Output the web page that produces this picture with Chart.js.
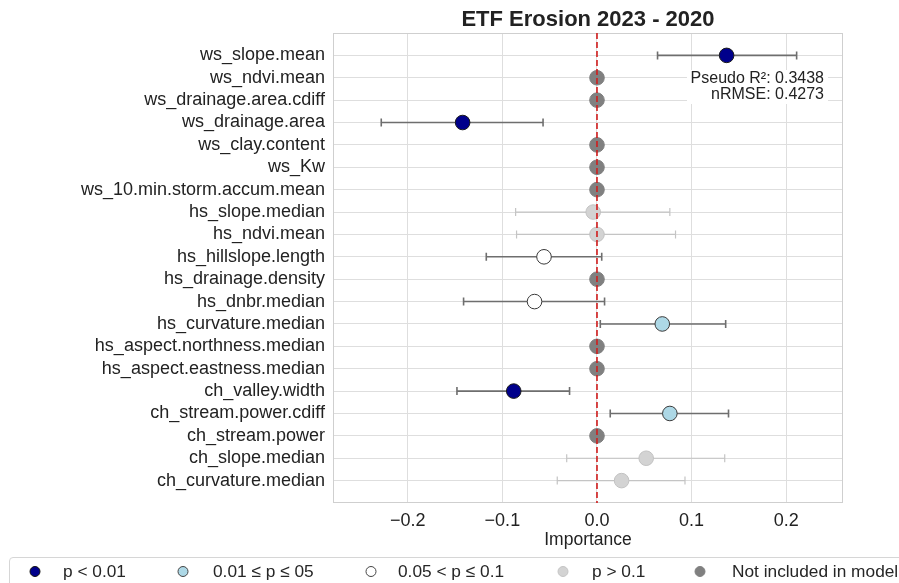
<!DOCTYPE html>
<html lang="en">
<head>
  <meta charset="UTF-8">
  <title>ETF Erosion 2023 - 2020</title>
  <script src="https://cdn.jsdelivr.net/npm/chart.js"></script>
  <style>
    html, body {
      margin: 0;
      padding: 0;
      background: #ffffff;
      font-family: 'Liberation Sans', Arial, sans-serif;
      color: #262626;
      overflow: hidden;
    }

    .wrap {
      position: relative;
      width: 899px;
      height: 583px;
    }

    canvas {
      display: block;
    }

    .legend {
      position: absolute;
      left: 9px;
      top: 557px;
      width: 940px;
      height: 44px;
      border: 1px solid #d6d6d6;
      border-radius: 4px;
      box-sizing: border-box;
    }

    .legend .dot {
      position: absolute;
      top: 8px;
      width: 11px;
      height: 11px;
      border-radius: 50%;
      box-sizing: border-box;
      transform: translateX(-50%);
    }

    .legend .txt {
      position: absolute;
      top: 3px;
      font-size: 17.3px;
      line-height: 20px;
      white-space: nowrap;
      color: #262626;
    }
  </style>
</head>
<body>
  <div class="wrap">
    <canvas id="chart" width="899" height="583"></canvas>
    <div class="legend">
      <span class="dot" style="left:25px;background:#00008b;border:1px solid #111;"></span>
      <span class="txt" style="left:53px;">p &lt; 0.01</span>
      <span class="dot" style="left:173px;background:#add8e6;border:1px solid #444;"></span>
      <span class="txt" style="left:203px;">0.01 ≤ p ≤ 05</span>
      <span class="dot" style="left:361px;background:#ffffff;border:1px solid #444;"></span>
      <span class="txt" style="left:388px;">0.05 &lt; p ≤ 0.1</span>
      <span class="dot" style="left:553px;background:#d3d3d3;border:1px solid #c4c4c4;"></span>
      <span class="txt" style="left:582px;">p &gt; 0.1</span>
      <span class="dot" style="left:690px;background:#808080;border:1px solid #808080;"></span>
      <span class="txt" style="left:722px;">Not included in model</span>
    </div>
  </div>

  <script>
    // feature names, top to bottom
    const features = [
      'ws_slope.mean', 'ws_ndvi.mean', 'ws_drainage.area.cdiff', 'ws_drainage.area',
      'ws_clay.content', 'ws_Kw', 'ws_10.min.storm.accum.mean', 'hs_slope.median',
      'hs_ndvi.mean', 'hs_hillslope.length', 'hs_drainage.density', 'hs_dnbr.median',
      'hs_curvature.median', 'hs_aspect.northness.median', 'hs_aspect.eastness.median',
      'ch_valley.width', 'ch_stream.power.cdiff', 'ch_stream.power', 'ch_slope.median',
      'ch_curvature.median'
    ];

    const importance = [
      0.137, 0, 0, -0.142, 0, 0, 0, -0.004, 0, -0.056,
      0, -0.066, 0.069, 0, 0, -0.088, 0.077, 0, 0.052, 0.026
    ];

    // confidence interval ends (null = not in model)
    const ciLow = [
      0.064, null, null, -0.228, null, null, null, -0.086, -0.085, -0.117,
      null, -0.141, 0.0035, null, null, -0.148, 0.014, null, -0.032, -0.042
    ];
    const ciHigh = [
      0.211, null, null, -0.057, null, null, null, 0.077, 0.083, 0.005,
      null, 0.008, 0.136, null, null, -0.029, 0.139, null, 0.135, 0.093
    ];

    // significance class per feature
    const pClass = [
      'p01', 'none', 'none', 'p01', 'none', 'none', 'none', 'ns', 'ns', 'p10',
      'none', 'p10', 'p05', 'none', 'none', 'p01', 'p05', 'none', 'ns', 'ns'
    ];

    const xTicks = [-0.2, -0.1, 0, 0.1, 0.2];
    const xTickLabels = ['−0.2', '−0.1', '0.0', '0.1', '0.2'];

    const pseudoR2 = 0.3438;
    const nRMSE = 0.4273;

    const styles = {
      p01:  { fill: '#00008b', edge: '#1a1a1a', bar: '#6e6e6e', barWidth: 1.6 },
      p05:  { fill: '#add8e6', edge: '#3a3a3a', bar: '#6e6e6e', barWidth: 1.6 },
      p10:  { fill: '#ffffff', edge: '#3a3a3a', bar: '#6e6e6e', barWidth: 1.6 },
      ns:   { fill: '#d3d3d3', edge: '#c2c2c2', bar: '#c4c4c4', barWidth: 1.2 },
      none: { fill: '#808080', edge: '#808080', bar: '#808080', barWidth: 1 }
    };

    const FONT = "'Liberation Sans', Arial, sans-serif";
    const TEXT = '#222222';

    const framePlugin = {
      id: 'frame',
      beforeDatasetsDraw(chart) {
        const { ctx, chartArea: a, scales: { x, y } } = chart;
        ctx.save();
        ctx.strokeStyle = '#cfcfcf';
        ctx.lineWidth = 1;
        ctx.strokeRect(a.left + 0.5, a.top + 0.5, a.right - a.left - 1, a.bottom - a.top - 1);

        // error bars
        features.forEach((f, i) => {
          if (ciLow[i] == null) return;
          const st = styles[pClass[i]];
          const yp = y.getPixelForValue(i);
          const x0 = x.getPixelForValue(ciLow[i]);
          const x1 = x.getPixelForValue(ciHigh[i]);
          ctx.strokeStyle = st.bar;
          ctx.lineWidth = st.barWidth;
          ctx.beginPath();
          ctx.moveTo(x0, yp); ctx.lineTo(x1, yp);
          ctx.moveTo(x0, yp - 4); ctx.lineTo(x0, yp + 4);
          ctx.moveTo(x1, yp - 4); ctx.lineTo(x1, yp + 4);
          ctx.stroke();
        });
        ctx.restore();
      },
      afterDatasetsDraw(chart) {
        const { ctx, chartArea: a, scales: { x } } = chart;
        ctx.save();
        // zero line
        const x0 = x.getPixelForValue(0);
        ctx.strokeStyle = '#d01c1c';
        ctx.lineWidth = 1.6;
        ctx.setLineDash([6, 3]);
        ctx.beginPath();
        ctx.moveTo(x0, a.top); ctx.lineTo(x0, a.bottom);
        ctx.stroke();
        ctx.setLineDash([]);

        // title
        ctx.fillStyle = TEXT;
        ctx.font = 'bold 22px ' + FONT;
        ctx.textAlign = 'center';
        ctx.textBaseline = 'middle';
        ctx.fillText('ETF Erosion 2023 - 2020', (a.left + a.right) / 2, 20);

        // stats box
        const rx = a.right - 19;
        ctx.fillStyle = '#ffffff';
        ctx.fillRect(rx - 137, 70, 141, 34);
        ctx.fillStyle = TEXT;
        ctx.font = '16px ' + FONT;
        ctx.textAlign = 'right';
        ctx.fillText('Pseudo R²: ' + pseudoR2.toFixed(4), rx, 79);
        ctx.fillText('nRMSE: ' + nRMSE.toFixed(4), rx, 95);
        ctx.restore();
      }
    };

    const ctx = document.getElementById('chart').getContext('2d');

    new Chart(ctx, {
      type: 'scatter',
      data: {
        datasets: [{
          data: importance.map((v, i) => ({ x: v, y: i })),
          backgroundColor: importance.map((v, i) => styles[pClass[i]].fill),
          borderColor: importance.map((v, i) => styles[pClass[i]].edge),
          borderWidth: 1,
          pointRadius: 7.3,
          pointHoverRadius: 7.3
        }]
      },
      options: {
        responsive: false,
        animation: false,
        layout: {
          padding: { top: 33, right: 56, bottom: 32, left: 0 }
        },
        plugins: {
          legend: { display: false },
          tooltip: { enabled: false }
        },
        scales: {
          x: {
            type: 'linear',
            min: -0.279,
            max: 0.26,
            afterBuildTicks: (scale) => {
              scale.ticks = xTicks.map(v => ({ value: v }));
            },
            afterFit: (scale) => { scale.height = 48; },
            grid: { color: '#dedede', drawTicks: false },
            border: { display: false },
            ticks: {
              color: TEXT,
              font: { family: FONT, size: 18 },
              padding: 7,
              callback: (v) => xTickLabels[xTicks.findIndex(t => Math.abs(t - v) < 1e-9)]
            },
            title: {
              display: true,
              text: 'Importance',
              color: TEXT,
              font: { family: FONT, size: 17.5 },
              padding: { top: 0, bottom: 0 }
            }
          },
          y: {
            type: 'linear',
            reverse: true,
            min: -1,
            max: 20,
            afterBuildTicks: (scale) => {
              scale.ticks = features.map((f, i) => ({ value: i }));
            },
            afterFit: (scale) => { scale.width = 333; },
            grid: { color: '#dedede', drawTicks: false },
            border: { display: false },
            ticks: {
              color: TEXT,
              font: { family: FONT, size: 18 },
              padding: 8,
              callback: (v) => features[v]
            }
          }
        }
      },
      plugins: [framePlugin]
    });
  </script>
</body>
</html>
